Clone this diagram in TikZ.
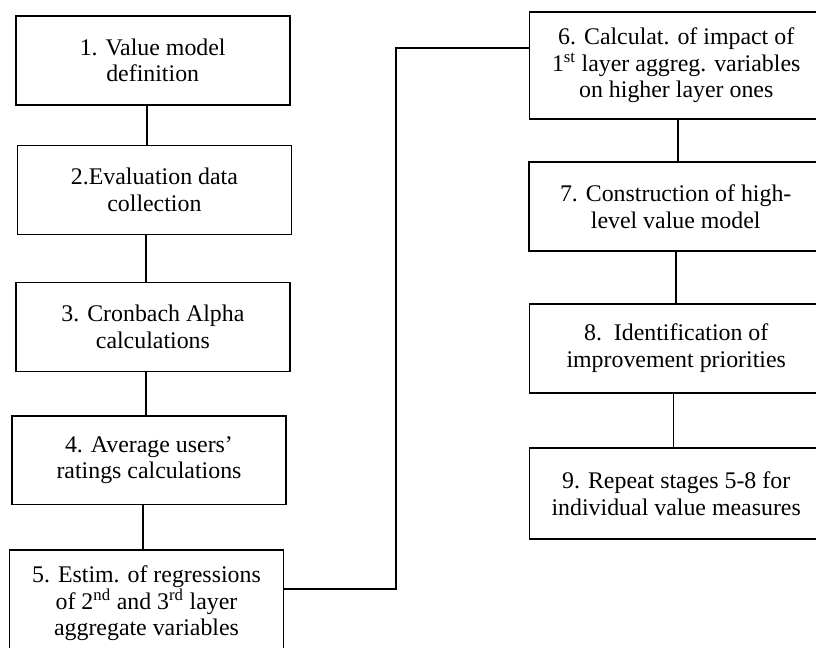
\documentclass[tikz,border=0pt]{standalone}
\usepackage{fontspec}
\setmainfont{Liberation Serif}
\usepackage{tikz}

\begin{document}
\begin{tikzpicture}[
  x=0.75pt, y=-0.75pt,
  every node/.style={font=\fontsize{17.9pt}{20pt}\selectfont, align=center},
  stage/.style={rectangle, draw, line width=1.3pt, inner sep=0pt, minimum width=205.5pt, minimum height=66.7pt},
  widestage/.style={stage, minimum width=220pt},
  tallstage/.style={minimum height=80.5pt},
  line width=1.3pt
  ]
\useasboundingbox (0,0) rectangle (816,648);

% Nodes (left column)
\node[stage] (b1) at (152.7,60.4) {1. Value model\\ definition};
\node[stage] (b2) at (154.4,190) {2.Evaluation data\\ collection};
\node[stage] (b3) at (152.9,327) {3. Cronbach Alpha\\ calculations};
\node[stage] (b4) at (149,460.1) {4. Average users’\\ ratings calculations};
\node[stage, tallstage] (b5) at (146.5,603.3) {5. Estim. of regressions\\ of 2\textsuperscript{nd} and 3\textsuperscript{rd} layer\\ aggregate variables};

% Nodes (right column)
\node[widestage, tallstage] (b6) at (676.2,65.4) {6. Calculat. of impact of\\ 1\textsuperscript{st} layer aggreg. variables\\ on higher layer ones};
\node[widestage] (b7) at (675.7,206.5) {7. Construction of high-\\ level value model};
\node[widestage] (b8) at (676.2,348.4) {8.\ \ Identification of\\ improvement priorities};
\node[widestage, minimum height=68.7pt] (b9) at (676.2,493.5) {9. Repeat stages 5-8 for\\ individual value measures};
\coordinate (bend) at (395.7,47.7);

% Lines
\draw ([xshift=-4.5pt]b1.south) -- ([xshift=-4.5pt]b1.south |- b2.north);
\draw ([xshift=-6.5pt]b2.south) -- ([xshift=-6.5pt]b2.south |- b3.north);
\draw ([xshift=-5pt]b3.south) -- ([xshift=-5pt]b3.south |- b4.north);
\draw ([xshift=-4.7pt]b4.south) -- ([xshift=-4.7pt]b4.south |- b5.north);
\draw ([yshift=10.5pt]b5.east) -| (bend) -- (bend -| b6.west);
\draw ([xshift=1.5pt]b6.south) -- ([xshift=1.5pt]b6.south |- b7.north);
\draw (b7.south) -- (b7.south |- b8.north);
\draw ([xshift=-2pt]b8.south) -- ([xshift=-2pt]b8.south |- b9.north);

\end{tikzpicture}
\end{document}
